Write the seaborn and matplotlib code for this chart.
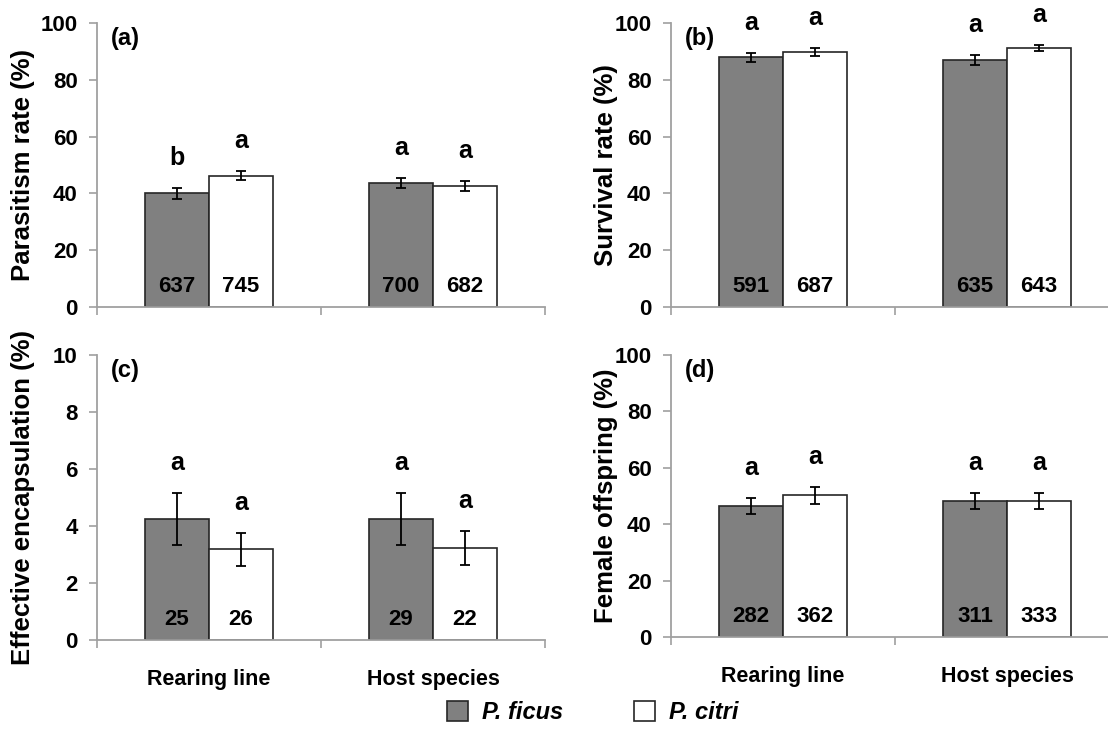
import numpy as np
import pandas as pd
import matplotlib
matplotlib.use('Agg')
import matplotlib.pyplot as plt
import seaborn as sns
from matplotlib.patches import Patch

# ---------------- data ----------------
groups = ['Rearing line', 'Host species']
species = ['P. ficus', 'P. citri']

# (a) Parasitism rate
a_ficus = [40.0, 43.7]
a_ficus_se = [1.9, 1.8]
a_citri = [46.3, 42.6]
a_citri_se = [1.6, 1.9]
a_n_ficus = [637, 700]
a_n_citri = [745, 682]
a_let_ficus = ['b', 'a']
a_let_citri = ['a', 'a']

# (b) Survival rate
b_ficus = [88.0, 86.9]
b_ficus_se = [1.6, 1.8]
b_citri = [89.8, 91.1]
b_citri_se = [1.4, 1.05]
b_n_ficus = [591, 635]
b_n_citri = [687, 643]
b_let_ficus = ['a', 'a']
b_let_citri = ['a', 'a']

# (c) Effective encapsulation
c_ficus = [4.25, 4.25]
c_ficus_se = [0.92, 0.90]
c_citri = [3.18, 3.24]
c_citri_se = [0.58, 0.60]
c_n_ficus = [25, 29]
c_n_citri = [26, 22]
c_let_ficus = ['a', 'a']
c_let_citri = ['a', 'a']

# (d) Female offspring
d_ficus = [46.5, 48.3]
d_ficus_se = [2.9, 2.9]
d_citri = [50.2, 48.3]
d_citri_se = [2.9, 2.8]
d_n_ficus = [282, 311]
d_n_citri = [362, 333]
d_let_ficus = ['a', 'a']
d_let_citri = ['a', 'a']

ylabels = ['Parasitism rate (%)', 'Survival rate (%)',
           'Effective encapsulation (%)', 'Female offspring (%)']
panel_tags = ['(a)', '(b)', '(c)', '(d)']
ymaxes = [100, 100, 10, 100]
ysteps = [20, 20, 2, 20]

panels = [
    (a_ficus, a_ficus_se, a_citri, a_citri_se, a_n_ficus, a_n_citri, a_let_ficus, a_let_citri),
    (b_ficus, b_ficus_se, b_citri, b_citri_se, b_n_ficus, b_n_citri, b_let_ficus, b_let_citri),
    (c_ficus, c_ficus_se, c_citri, c_citri_se, c_n_ficus, c_n_citri, c_let_ficus, c_let_citri),
    (d_ficus, d_ficus_se, d_citri, d_citri_se, d_n_ficus, d_n_citri, d_let_ficus, d_let_citri),
]

# ---------------- style ----------------
sns.set_theme(style='ticks')
plt.rcParams['font.family'] = ['Liberation Sans', 'DejaVu Sans']
plt.rcParams['font.weight'] = 'bold'
plt.rcParams['text.color'] = 'black'
plt.rcParams['axes.labelcolor'] = 'black'
plt.rcParams['xtick.labelcolor'] = 'black'
plt.rcParams['ytick.labelcolor'] = 'black'

W, H = 1108, 738
fig = plt.figure(figsize=(W / 100, H / 100), dpi=100)

spine_col = '#a0a0a0'
col_ficus = '#808080'
col_citri = '#ffffff'
edge_col = '#262626'

# axes positions in pixels: (left, top, width, height)
boxes = [(97, 23, 448, 284), (671, 23, 448, 284),
         (97, 355, 448, 285), (671, 355, 448, 282)]

for i, (box, pdata) in enumerate(zip(boxes, panels)):
    l, t, w, h = box
    ax = fig.add_axes([l / W, 1 - (t + h) / H, w / W, h / H])
    ficus, ficus_se, citri, citri_se, n_ficus, n_citri, let_ficus, let_citri = pdata

    df = pd.DataFrame({
        'group': groups * 2,
        'species': [species[0]] * 2 + [species[1]] * 2,
        'value': list(ficus) + list(citri),
    })
    sns.barplot(data=df, x='group', y='value', hue='species',
                order=groups, hue_order=species,
                palette={species[0]: col_ficus, species[1]: col_citri},
                saturation=1, width=0.57, errorbar=None,
                edgecolor=edge_col, linewidth=1.2, legend=False, ax=ax)

    # order: rearing-ficus, rearing-citri, host-ficus, host-citri
    errs = [ficus_se[0], citri_se[0], ficus_se[1], citri_se[1]]
    ns = [n_ficus[0], n_citri[0], n_ficus[1], n_citri[1]]
    lets = [let_ficus[0], let_citri[0], let_ficus[1], let_citri[1]]
    bars = sorted(ax.patches, key=lambda p: p.get_x())
    xs = [p.get_x() + p.get_width() / 2 for p in bars]
    hs = [p.get_height() for p in bars]

    ax.errorbar(xs, hs, yerr=errs, fmt='none', ecolor='black',
                elinewidth=1.3, capsize=3.6, capthick=1.3, zorder=5)

    for x, hgt, e, n, lt in zip(xs, hs, errs, ns, lets):
        ax.annotate(lt, (x, hgt + e), xytext=(0, 16.5), textcoords='offset points',
                    ha='center', va='baseline', fontsize=18, fontweight='bold',
                    color='black', annotation_clip=False)
        ax.annotate(str(n), (x, 0), xytext=(0, 11), textcoords='offset points',
                    ha='center', va='baseline', fontsize=16, fontweight='bold',
                    color='black')

    ax.set_ylim(0, ymaxes[i])
    ax.set_xlim(-0.5, 1.5)
    ax.set_yticks(np.arange(0, ymaxes[i] + 0.001, ysteps[i]))
    ax.set_yticklabels([f'{v:g}' for v in np.arange(0, ymaxes[i] + 0.001, ysteps[i])],
                       fontsize=16, fontweight='bold')
    ax.tick_params(axis='y', length=6, width=1.2, color=spine_col, pad=8,
                   labelcolor='black')

    ax.set_xticks([0, 1])
    if i >= 2:
        ax.set_xticklabels(groups, fontsize=15.5, fontweight='bold')
    else:
        ax.set_xticklabels(['', ''])
    ax.tick_params(axis='x', which='major', length=0, pad=21, labelcolor='black')
    ax.set_xticks([-0.5, 0.5, 1.5], minor=True)
    ax.tick_params(axis='x', which='minor', length=6, width=1.2, color=spine_col)

    ax.set_xlabel('')
    ax.set_ylabel(ylabels[i], fontsize=18.5, fontweight='bold', color='black')
    ax.yaxis.set_label_coords(-0.138 if i % 2 == 0 else -0.118, 0.5)

    for s in ['top', 'right']:
        ax.spines[s].set_visible(False)
    for s in ['left', 'bottom']:
        ax.spines[s].set_color(spine_col)
        ax.spines[s].set_linewidth(1.3)

    ax.text(0.03, 0.985, panel_tags[i], transform=ax.transAxes, ha='left', va='top',
            fontsize=17, fontweight='bold', color='black')

handles = [Patch(facecolor=col_ficus, edgecolor=edge_col, linewidth=1.2, label=species[0]),
           Patch(facecolor=col_citri, edgecolor=edge_col, linewidth=1.2, label=species[1])]
fig.legend(handles=handles, loc='center', bbox_to_anchor=(0.535, 0.034), ncol=2,
           frameon=False, prop={'size': 17, 'weight': 'bold', 'style': 'italic'},
           labelcolor='black',
           handlelength=0.9, handleheight=0.9, handletextpad=0.6, columnspacing=3.0)

fig.savefig('out.png', dpi=100)
